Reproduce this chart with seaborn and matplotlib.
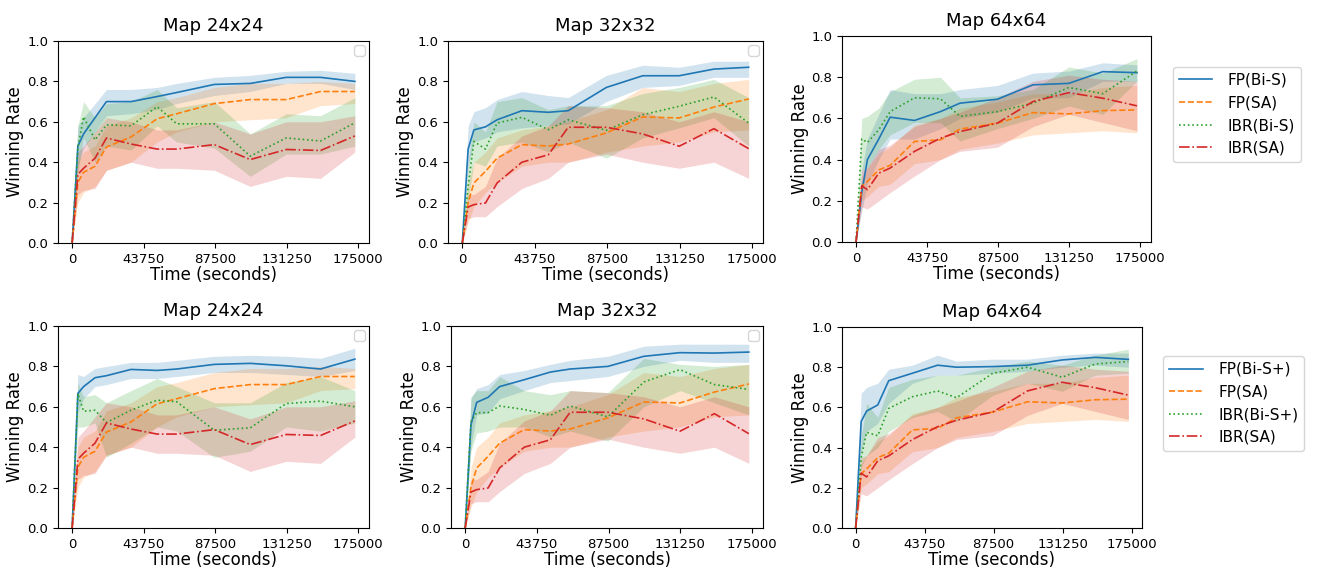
import matplotlib
matplotlib.use("Agg")
import matplotlib.pyplot as plt
import seaborn as sns
import numpy as np

# ---------------- data ----------------
times = [0, 3500, 7000, 14000, 21000, 36000, 52000, 64000, 87000, 109000, 131000, 152000, 173000]
xticks = [0, 43750, 87500, 131250, 175000]
titles = ["Map 24x24", "Map 32x32", "Map 64x64"]
labels_top = ["FP(Bi-S)", "FP(SA)", "IBR(Bi-S)", "IBR(SA)"]
labels_bot = ["FP(Bi-S+)", "FP(SA)", "IBR(Bi-S+)", "IBR(SA)"]

# Map 24x24 - shared SA baselines
fp_sa_24 = [0, 0.30, 0.35, 0.38, 0.475, 0.525, 0.615, 0.64, 0.69, 0.71, 0.71, 0.75, 0.75]
fp_sa_24_lo = [0, 0.20, 0.25, 0.28, 0.36, 0.40, 0.50, 0.55, 0.60, 0.61, 0.62, 0.68, 0.69]
fp_sa_24_hi = [0, 0.40, 0.45, 0.48, 0.58, 0.62, 0.70, 0.72, 0.77, 0.79, 0.79, 0.80, 0.79]
ibr_sa_24 = [0, 0.34, 0.37, 0.42, 0.52, 0.49, 0.465, 0.465, 0.487, 0.413, 0.463, 0.458, 0.53]
ibr_sa_24_lo = [0, 0.24, 0.26, 0.27, 0.36, 0.40, 0.37, 0.37, 0.36, 0.28, 0.33, 0.32, 0.45]
ibr_sa_24_hi = [0, 0.45, 0.48, 0.55, 0.62, 0.60, 0.56, 0.56, 0.60, 0.54, 0.60, 0.60, 0.63]
# Map 24x24 - Bi-S
fp_bis_24 = [0, 0.48, 0.54, 0.62, 0.70, 0.70, 0.725, 0.745, 0.785, 0.79, 0.82, 0.82, 0.80]
fp_bis_24_lo = [0, 0.38, 0.47, 0.55, 0.63, 0.64, 0.66, 0.69, 0.73, 0.75, 0.79, 0.79, 0.76]
fp_bis_24_hi = [0, 0.58, 0.62, 0.69, 0.76, 0.76, 0.77, 0.79, 0.82, 0.83, 0.85, 0.855, 0.84]
ibr_bis_24 = [0, 0.47, 0.625, 0.51, 0.585, 0.58, 0.675, 0.59, 0.59, 0.43, 0.52, 0.505, 0.595]
ibr_bis_24_lo = [0, 0.35, 0.52, 0.40, 0.48, 0.46, 0.58, 0.50, 0.47, 0.33, 0.44, 0.44, 0.48]
ibr_bis_24_hi = [0, 0.58, 0.70, 0.62, 0.69, 0.70, 0.76, 0.67, 0.70, 0.54, 0.64, 0.63, 0.72]
# Map 24x24 - Bi-S+
fp_bisp_24 = [0, 0.666, 0.70, 0.744, 0.754, 0.785, 0.78, 0.787, 0.81, 0.815, 0.803, 0.787, 0.836]
fp_bisp_24_lo = [0, 0.57, 0.64, 0.70, 0.71, 0.74, 0.74, 0.75, 0.77, 0.77, 0.76, 0.75, 0.78]
fp_bisp_24_hi = [0, 0.76, 0.75, 0.79, 0.80, 0.82, 0.82, 0.83, 0.85, 0.855, 0.85, 0.84, 0.89]
ibr_bisp_24 = [0, 0.666, 0.578, 0.583, 0.522, 0.583, 0.633, 0.625, 0.484, 0.496, 0.616, 0.628, 0.60]
ibr_bisp_24_lo = [0, 0.50, 0.50, 0.52, 0.35, 0.42, 0.50, 0.48, 0.35, 0.38, 0.50, 0.48, 0.52]
ibr_bisp_24_hi = [0, 0.72, 0.65, 0.66, 0.62, 0.68, 0.74, 0.70, 0.62, 0.62, 0.72, 0.75, 0.68]

# Map 32x32 - shared SA baselines
fp_sa_32 = [0, 0.20, 0.297, 0.355, 0.42, 0.487, 0.48, 0.49, 0.545, 0.624, 0.619, 0.673, 0.713]
fp_sa_32_lo = [0, 0.10, 0.18, 0.25, 0.30, 0.38, 0.40, 0.40, 0.45, 0.48, 0.50, 0.55, 0.56]
fp_sa_32_hi = [0, 0.30, 0.40, 0.45, 0.52, 0.56, 0.58, 0.60, 0.66, 0.77, 0.75, 0.79, 0.81]
ibr_sa_32 = [0, 0.178, 0.19, 0.198, 0.297, 0.40, 0.437, 0.573, 0.573, 0.54, 0.479, 0.566, 0.467]
ibr_sa_32_lo = [0, 0.12, 0.13, 0.13, 0.18, 0.27, 0.32, 0.40, 0.44, 0.40, 0.37, 0.40, 0.32]
ibr_sa_32_hi = [0, 0.24, 0.24, 0.28, 0.42, 0.53, 0.58, 0.68, 0.67, 0.65, 0.60, 0.65, 0.60]
# Map 32x32 - Bi-S
fp_bis_32 = [0, 0.465, 0.56, 0.575, 0.61, 0.655, 0.647, 0.655, 0.77, 0.828, 0.828, 0.861, 0.87]
fp_bis_32_lo = [0, 0.38, 0.50, 0.52, 0.55, 0.57, 0.58, 0.59, 0.70, 0.77, 0.78, 0.82, 0.82]
fp_bis_32_hi = [0, 0.58, 0.65, 0.67, 0.71, 0.75, 0.73, 0.72, 0.83, 0.88, 0.87, 0.90, 0.90]
ibr_bis_32 = [0, 0.28, 0.503, 0.465, 0.594, 0.622, 0.561, 0.61, 0.558, 0.635, 0.677, 0.723, 0.594]
ibr_bis_32_lo = [0, 0.20, 0.40, 0.38, 0.48, 0.50, 0.45, 0.50, 0.42, 0.52, 0.57, 0.62, 0.48]
ibr_bis_32_hi = [0, 0.40, 0.60, 0.55, 0.70, 0.72, 0.66, 0.68, 0.68, 0.74, 0.77, 0.81, 0.72]
# Map 32x32 - Bi-S+
fp_bisp_32 = [0, 0.51, 0.622, 0.647, 0.70, 0.734, 0.772, 0.787, 0.80, 0.85, 0.868, 0.866, 0.871]
fp_bisp_32_lo = [0, 0.40, 0.56, 0.57, 0.64, 0.68, 0.72, 0.73, 0.75, 0.80, 0.83, 0.82, 0.82]
fp_bisp_32_hi = [0, 0.64, 0.69, 0.71, 0.76, 0.78, 0.81, 0.83, 0.85, 0.90, 0.91, 0.91, 0.91]
ibr_bisp_32 = [0, 0.525, 0.571, 0.571, 0.604, 0.587, 0.558, 0.604, 0.55, 0.723, 0.784, 0.71, 0.686]
ibr_bisp_32_lo = [0, 0.38, 0.47, 0.48, 0.50, 0.50, 0.45, 0.48, 0.43, 0.60, 0.68, 0.62, 0.56]
ibr_bisp_32_hi = [0, 0.65, 0.68, 0.68, 0.75, 0.68, 0.66, 0.68, 0.67, 0.84, 0.81, 0.80, 0.81]

# Map 64x64 - shared SA baselines
fp_sa_64 = [0, 0.27, 0.294, 0.35, 0.372, 0.488, 0.496, 0.548, 0.577, 0.628, 0.622, 0.638, 0.641]
fp_sa_64_lo = [0, 0.20, 0.22, 0.27, 0.28, 0.38, 0.40, 0.45, 0.48, 0.52, 0.53, 0.54, 0.53]
fp_sa_64_hi = [0, 0.32, 0.36, 0.43, 0.46, 0.57, 0.60, 0.65, 0.68, 0.72, 0.72, 0.75, 0.76]
ibr_sa_64 = [0, 0.273, 0.254, 0.334, 0.359, 0.44, 0.504, 0.536, 0.577, 0.682, 0.725, 0.698, 0.661]
ibr_sa_64_lo = [0, 0.17, 0.16, 0.20, 0.24, 0.32, 0.40, 0.44, 0.46, 0.56, 0.62, 0.58, 0.54]
ibr_sa_64_hi = [0, 0.35, 0.36, 0.45, 0.47, 0.56, 0.60, 0.63, 0.70, 0.78, 0.81, 0.79, 0.78]
# Map 64x64 - Bi-S
fp_bis_64 = [0, 0.24, 0.40, 0.50, 0.606, 0.59, 0.633, 0.674, 0.693, 0.763, 0.77, 0.827, 0.822]
fp_bis_64_lo = [0, 0.15, 0.28, 0.40, 0.50, 0.50, 0.55, 0.60, 0.63, 0.70, 0.70, 0.78, 0.78]
fp_bis_64_hi = [0, 0.35, 0.50, 0.62, 0.74, 0.72, 0.72, 0.74, 0.76, 0.82, 0.83, 0.87, 0.86]
ibr_bis_64 = [0, 0.50, 0.483, 0.545, 0.633, 0.70, 0.695, 0.61, 0.633, 0.674, 0.75, 0.72, 0.83]
ibr_bis_64_lo = [0, 0.35, 0.36, 0.45, 0.52, 0.58, 0.58, 0.49, 0.55, 0.60, 0.66, 0.62, 0.78]
ibr_bis_64_hi = [0, 0.60, 0.61, 0.65, 0.73, 0.79, 0.80, 0.70, 0.71, 0.74, 0.85, 0.82, 0.89]
# Map 64x64 - Bi-S+
fp_bisp_64 = [0, 0.53, 0.582, 0.612, 0.733, 0.77, 0.81, 0.80, 0.803, 0.81, 0.836, 0.849, 0.839]
fp_bisp_64_lo = [0, 0.38, 0.48, 0.52, 0.62, 0.72, 0.76, 0.76, 0.77, 0.78, 0.80, 0.81, 0.80]
fp_bisp_64_hi = [0, 0.67, 0.70, 0.72, 0.79, 0.81, 0.86, 0.83, 0.84, 0.84, 0.86, 0.87, 0.87]
ibr_bisp_64 = [0, 0.35, 0.476, 0.459, 0.595, 0.653, 0.682, 0.648, 0.77, 0.80, 0.75, 0.816, 0.828]
ibr_bisp_64_lo = [0, 0.30, 0.36, 0.40, 0.48, 0.55, 0.58, 0.53, 0.66, 0.72, 0.68, 0.76, 0.77]
ibr_bisp_64_hi = [0, 0.45, 0.62, 0.55, 0.70, 0.74, 0.76, 0.76, 0.80, 0.83, 0.81, 0.86, 0.89]

# ---------------- figure ----------------
W, H = 1320, 570
fig = plt.figure(figsize=(W / 100, H / 100), dpi=100)

def rect(l, r, t, b):
    return [l / W, (H - b) / H, (r - l) / W, (b - t) / H]

rects = [
    [rect(58, 369, 41, 243), rect(448, 763, 41, 243), rect(842, 1151, 36, 242)],
    [rect(58, 369, 326, 528), rect(451, 763, 326, 528), rect(842, 1142, 327, 528)],
]

panels = [
    [
        [(fp_bis_24, fp_bis_24_lo, fp_bis_24_hi), (fp_sa_24, fp_sa_24_lo, fp_sa_24_hi),
         (ibr_bis_24, ibr_bis_24_lo, ibr_bis_24_hi), (ibr_sa_24, ibr_sa_24_lo, ibr_sa_24_hi)],
        [(fp_bis_32, fp_bis_32_lo, fp_bis_32_hi), (fp_sa_32, fp_sa_32_lo, fp_sa_32_hi),
         (ibr_bis_32, ibr_bis_32_lo, ibr_bis_32_hi), (ibr_sa_32, ibr_sa_32_lo, ibr_sa_32_hi)],
        [(fp_bis_64, fp_bis_64_lo, fp_bis_64_hi), (fp_sa_64, fp_sa_64_lo, fp_sa_64_hi),
         (ibr_bis_64, ibr_bis_64_lo, ibr_bis_64_hi), (ibr_sa_64, ibr_sa_64_lo, ibr_sa_64_hi)],
    ],
    [
        [(fp_bisp_24, fp_bisp_24_lo, fp_bisp_24_hi), (fp_sa_24, fp_sa_24_lo, fp_sa_24_hi),
         (ibr_bisp_24, ibr_bisp_24_lo, ibr_bisp_24_hi), (ibr_sa_24, ibr_sa_24_lo, ibr_sa_24_hi)],
        [(fp_bisp_32, fp_bisp_32_lo, fp_bisp_32_hi), (fp_sa_32, fp_sa_32_lo, fp_sa_32_hi),
         (ibr_bisp_32, ibr_bisp_32_lo, ibr_bisp_32_hi), (ibr_sa_32, ibr_sa_32_lo, ibr_sa_32_hi)],
        [(fp_bisp_64, fp_bisp_64_lo, fp_bisp_64_hi), (fp_sa_64, fp_sa_64_lo, fp_sa_64_hi),
         (ibr_bisp_64, ibr_bisp_64_lo, ibr_bisp_64_hi), (ibr_sa_64, ibr_sa_64_lo, ibr_sa_64_hi)],
    ],
]

colors = sns.color_palette("tab10", 4)
styles = ["-", "--", ":", "-."]
row_labels = [labels_top, labels_bot]

for r in range(2):
    for c in range(3):
        ax = fig.add_axes(rects[r][c])
        for k, (mean, lo, hi) in enumerate(panels[r][c]):
            ax.fill_between(times, lo, hi, color=colors[k], alpha=0.2, linewidth=0)
            kw = {}
            if c == 2:
                kw["label"] = row_labels[r][k]
            sns.lineplot(x=times, y=mean, ax=ax, color=colors[k], linestyle=styles[k],
                         linewidth=1.2, errorbar=None, legend=False, **kw)
        ax.set_ylim(0, 1.0)
        ax.set_xticks(xticks)
        ax.set_xticklabels([str(v) for v in xticks])
        ax.set_yticks([0, 0.2, 0.4, 0.6, 0.8, 1.0])
        ax.tick_params(labelsize=9.5)
        ax.set_title(titles[c], fontsize=13, pad=7)
        ax.set_xlabel("Time (seconds)", fontsize=12, labelpad=0)
        ax.set_ylabel("Winning Rate", fontsize=12, labelpad=2)
        if c == 2:
            ax.legend(loc="center left", bbox_to_anchor=(1.07, 0.62), fontsize=11,
                      borderaxespad=0, handlelength=2.2, handletextpad=1.0)
        else:
            ax.legend(loc="upper right", borderaxespad=0.3)

fig.savefig("out.png", dpi=100)
